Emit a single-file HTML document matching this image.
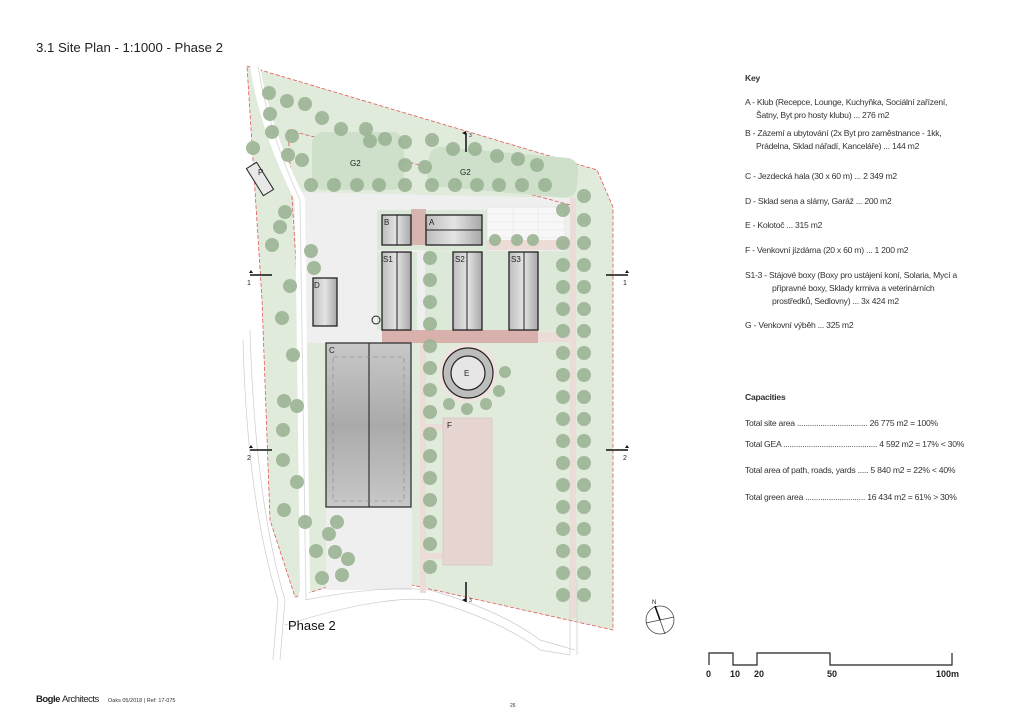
<!DOCTYPE html>
<html><head><meta charset="utf-8"><style>
html,body{margin:0;padding:0;background:#fff;width:1024px;height:724px;overflow:hidden}
svg{display:block}
text{font-family:"Liberation Sans",sans-serif}
.k{font-size:8.6px;fill:#333;letter-spacing:-0.25px}
.b{stroke:#222;stroke-width:1.3;fill:url(#gr)}
.t{fill:#9db596;opacity:.92}
.l{font-size:8px;fill:#222}
</style></head><body>
<svg width="1024" height="724" viewBox="0 0 1024 724" xmlns="http://www.w3.org/2000/svg">
<defs>
<linearGradient id="gr" x1="0" x2="1"><stop offset="0" stop-color="#bdbdbd"/><stop offset=".5" stop-color="#e4e4e4"/><stop offset="1" stop-color="#a8a8a8"/></linearGradient>
<linearGradient id="gv" x1="0" y1="0" x2="0" y2="1"><stop offset="0" stop-color="#c8c8c8"/><stop offset=".5" stop-color="#aaa"/><stop offset="1" stop-color="#c8c8c8"/></linearGradient>
</defs>
<text x="36" y="52" font-size="13.2" fill="#222">3.1 Site Plan - 1:1000 - Phase 2</text>

<polygon points="247,66 597,170 613,207 613,630 367,575 295,597 270,520 262,300" fill="#e0ebdc" stroke="#e05a5a" stroke-width="0.8" stroke-dasharray="4,2"/>
<polygon points="295,192 575,198 575,250 425,250 425,343 412,343 412,590 326,590 326,343 300,343 300,260 292,225" fill="#efefef"/>
<path d="M288,130 L578,207" stroke="#e05a5a" stroke-width="0.8" stroke-dasharray="4,2" fill="none"/>
<path d="M288,130 L300,330" stroke="#e05a5a" stroke-width="0.8" stroke-dasharray="4,2" fill="none"/>
<rect x="312" y="132" width="92" height="58" rx="12" fill="#cfe0ca"/>
<rect x="428" y="152" width="150" height="40" rx="12" fill="#cfe0ca" transform="rotate(5 500 170)"/>
<text x="350" y="166" class="l">G2</text><text x="460" y="175" class="l">G2</text>
<path d="M255,66 Q265,130 300,200 L305,590 L300,610" stroke="#fff" stroke-width="10" fill="none"/>
<path d="M258,66 Q268,130 300,200 L306,600" stroke="#ddd" stroke-width="1" fill="none"/>
<path d="M250,330 Q255,500 285,600 L280,660" stroke="#ccc" stroke-width="0.7" fill="none"/>
<path d="M243,340 Q247,500 278,600 L273,660" stroke="#ccc" stroke-width="0.7" fill="none"/>
<path d="M305,600 Q380,585 430,590 Q500,610 540,640 L575,650" stroke="#ccc" stroke-width="0.7" fill="none"/>
<path d="M285,625 Q380,595 430,600 Q500,620 540,650 L570,655" stroke="#ccc" stroke-width="0.7" fill="none"/>
<path d="M570,580 L570,655 M577,580 L577,655" stroke="#ccc" stroke-width="0.7"/>
<rect x="377" y="210" width="110" height="40" fill="#dce9d8"/>
<rect x="377" y="252" width="40" height="78" fill="#dce9d8"/>
<rect x="425" y="252" width="145" height="78" fill="#dce9d8"/>
<rect x="487" y="207" width="78" height="44" fill="#f7f7f7" stroke="#ddd" stroke-width=".6"/>
<path d="M487,214 H565 M487,222 H565 M487,230 H565 M487,238 H565 M513,207 V244 M538,207 V244" stroke="#e4e4e4" stroke-width=".6"/>
<rect x="420" y="343" width="6" height="250" fill="#ecdcd8"/>
<rect x="570" y="198" width="6" height="420" fill="#ecdcd8"/>
<rect x="538" y="332" width="37" height="10" fill="#ecdcd8"/>
<rect x="426" y="424" width="18" height="6" fill="#ecdcd8"/>
<rect x="426" y="553" width="18" height="6" fill="#ecdcd8"/>
<rect x="487" y="240" width="88" height="10" fill="#ecdcd8"/>
<rect x="411" y="209" width="15" height="36" fill="#d6b4b0"/>
<rect x="382" y="330" width="156" height="13" fill="#d8b0ac"/>
<rect x="382" y="215" width="29" height="30" class="b"/><line x1="397" y1="215" x2="397" y2="245" stroke="#222"/>
<rect x="426" y="215" width="56" height="30" class="b"/><line x1="426" y1="230" x2="482" y2="230" stroke="#222"/>
<rect x="382" y="252" width="29" height="78" class="b"/><line x1="397" y1="252" x2="397" y2="330" stroke="#222"/>
<rect x="453" y="252" width="29" height="78" class="b"/><line x1="467" y1="252" x2="467" y2="330" stroke="#222"/>
<rect x="509" y="252" width="29" height="78" class="b"/><line x1="524" y1="252" x2="524" y2="330" stroke="#222"/>
<rect x="313" y="278" width="24" height="48" class="b"/>
<rect x="326" y="343" width="85" height="164" fill="url(#gv)" stroke="#333" stroke-width="1.3"/>
<line x1="369" y1="343" x2="369" y2="507" stroke="#333" stroke-width="1.2"/>
<rect x="333" y="357" width="71" height="144" fill="none" stroke="#888" stroke-width=".6" stroke-dasharray="5,3"/>
<rect x="443" y="418" width="49" height="147" fill="#e6d5d1" stroke="#d5c0bc" stroke-width=".6"/>
<circle cx="468" cy="373" r="29" fill="#efe2df"/>
<circle cx="468" cy="373" r="25" fill="#bdbdbd" stroke="#222" stroke-width="1.2"/>
<circle cx="468" cy="373" r="17" fill="#e6e6e6" stroke="#222" stroke-width="1.2"/>
<circle cx="376" cy="320" r="4" fill="none" stroke="#222"/>
<rect x="254" y="163" width="12" height="32" fill="#e8e8e8" stroke="#222" transform="rotate(-32 260 179)"/>
<text x="384" y="225" class="l">B</text><text x="429" y="225" class="l">A</text>
<text x="383" y="262" class="l">S1</text><text x="455" y="262" class="l">S2</text><text x="511" y="262" class="l">S3</text>
<text x="314" y="288" class="l">D</text><text x="329" y="353" class="l">C</text><text x="464" y="376" class="l">E</text><text x="447" y="428" class="l">F</text>
<text x="258" y="175" class="l">P</text>
<g class="t">
<circle cx="269" cy="93" r="7"/><circle cx="287" cy="101" r="7"/><circle cx="305" cy="104" r="7"/><circle cx="270" cy="114" r="7"/><circle cx="322" cy="118" r="7"/><circle cx="341" cy="129" r="7"/><circle cx="366" cy="129" r="7"/><circle cx="272" cy="132" r="7"/><circle cx="253" cy="148" r="7"/><circle cx="292" cy="136" r="7"/><circle cx="302" cy="160" r="7"/><circle cx="288" cy="155" r="7"/><circle cx="370" cy="141" r="7"/><circle cx="385" cy="139" r="7"/><circle cx="405" cy="142" r="7"/><circle cx="432" cy="140" r="7"/><circle cx="453" cy="149" r="7"/><circle cx="475" cy="149" r="7"/><circle cx="497" cy="156" r="7"/><circle cx="518" cy="159" r="7"/><circle cx="537" cy="165" r="7"/><circle cx="405" cy="165" r="7"/><circle cx="425" cy="167" r="7"/><circle cx="311" cy="185" r="7"/><circle cx="334" cy="185" r="7"/><circle cx="357" cy="185" r="7"/><circle cx="379" cy="185" r="7"/><circle cx="405" cy="185" r="7"/><circle cx="432" cy="185" r="7"/><circle cx="455" cy="185" r="7"/><circle cx="477" cy="185" r="7"/><circle cx="499" cy="185" r="7"/><circle cx="522" cy="185" r="7"/><circle cx="545" cy="185" r="7"/><circle cx="584" cy="196" r="7"/>
<circle cx="285" cy="212" r="7"/><circle cx="280" cy="227" r="7"/><circle cx="272" cy="245" r="7"/><circle cx="311" cy="251" r="7"/><circle cx="314" cy="268" r="7"/><circle cx="290" cy="286" r="7"/><circle cx="282" cy="318" r="7"/><circle cx="293" cy="355" r="7"/><circle cx="284" cy="401" r="7"/><circle cx="297" cy="406" r="7"/><circle cx="283" cy="430" r="7"/><circle cx="283" cy="460" r="7"/><circle cx="297" cy="482" r="7"/><circle cx="284" cy="510" r="7"/><circle cx="305" cy="522" r="7"/><circle cx="337" cy="522" r="7"/><circle cx="329" cy="534" r="7"/><circle cx="316" cy="551" r="7"/><circle cx="335" cy="552" r="7"/><circle cx="348" cy="559" r="7"/><circle cx="322" cy="578" r="7"/><circle cx="342" cy="575" r="7"/>
<circle cx="495" cy="240" r="6"/><circle cx="517" cy="240" r="6"/><circle cx="533" cy="240" r="6"/>
<circle cx="430" cy="258" r="7"/><circle cx="430" cy="280" r="7"/><circle cx="430" cy="302" r="7"/><circle cx="430" cy="324" r="7"/><circle cx="430" cy="346" r="7"/><circle cx="430" cy="368" r="7"/><circle cx="430" cy="390" r="7"/><circle cx="430" cy="412" r="7"/><circle cx="430" cy="434" r="7"/><circle cx="430" cy="456" r="7"/><circle cx="430" cy="478" r="7"/><circle cx="430" cy="500" r="7"/><circle cx="430" cy="522" r="7"/><circle cx="430" cy="544" r="7"/><circle cx="430" cy="567" r="7"/>
<circle cx="505" cy="372" r="6"/><circle cx="499" cy="391" r="6"/><circle cx="486" cy="404" r="6"/><circle cx="467" cy="409" r="6"/><circle cx="449" cy="404" r="6"/>
<circle cx="563" cy="210" r="7"/><circle cx="584" cy="220" r="7"/>
<circle cx="563" cy="243" r="7"/><circle cx="563" cy="265" r="7"/><circle cx="563" cy="287" r="7"/><circle cx="563" cy="309" r="7"/><circle cx="563" cy="331" r="7"/><circle cx="563" cy="353" r="7"/><circle cx="563" cy="375" r="7"/><circle cx="563" cy="397" r="7"/><circle cx="563" cy="419" r="7"/><circle cx="563" cy="441" r="7"/><circle cx="563" cy="463" r="7"/><circle cx="563" cy="485" r="7"/><circle cx="563" cy="507" r="7"/><circle cx="563" cy="529" r="7"/><circle cx="563" cy="551" r="7"/><circle cx="563" cy="573" r="7"/><circle cx="563" cy="595" r="7"/>
<circle cx="584" cy="243" r="7"/><circle cx="584" cy="265" r="7"/><circle cx="584" cy="287" r="7"/><circle cx="584" cy="309" r="7"/><circle cx="584" cy="331" r="7"/><circle cx="584" cy="353" r="7"/><circle cx="584" cy="375" r="7"/><circle cx="584" cy="397" r="7"/><circle cx="584" cy="419" r="7"/><circle cx="584" cy="441" r="7"/><circle cx="584" cy="463" r="7"/><circle cx="584" cy="485" r="7"/><circle cx="584" cy="507" r="7"/><circle cx="584" cy="529" r="7"/><circle cx="584" cy="551" r="7"/><circle cx="584" cy="573" r="7"/><circle cx="584" cy="595" r="7"/>
</g>
<g stroke="#111" stroke-width="1.5" fill="none">
<path d="M250,275 H272"/><path d="M606,275 H628"/><path d="M250,450 H272"/><path d="M606,450 H628"/>
<path d="M466,133 V152"/><path d="M466,582 V602"/>
</g>
<g font-size="7" fill="#222">
<text x="247" y="285">1</text><text x="623" y="285">1</text><text x="247" y="460">2</text><text x="623" y="460">2</text>
<text x="469" y="137" font-size="5">3</text><text x="469" y="602" font-size="5">3</text>
</g>
<path d="M249,273 l2,-3 l2,3z M625,273 l2,-3 l2,3z M249,448 l2,-3 l2,3z M625,448 l2,-3 l2,3z M462,133 l4,-2 v4z M462,600 l4,-2 v4z" fill="#111"/>
<text x="288" y="630" font-size="13" fill="#111">Phase 2</text>
<circle cx="660" cy="620" r="14" fill="none" stroke="#444" stroke-width=".8"/>
<path d="M655,606 L665,634 M646,623 L674,617" stroke="#444" stroke-width=".8"/>
<path d="M655,606 L660,620" stroke="#111" stroke-width="1.6"/>
<text x="652" y="604" font-size="6" fill="#222">N</text>
<text x="745" y="81" class="k" font-weight="bold">Key</text>
<text x="745" y="105" class="k">A - Klub (Recepce, Lounge, Kuchyňka, Sociální zařízení,</text>
<text x="756" y="118" class="k">Šatny, Byt pro hosty klubu) ... 276 m2</text>
<text x="745" y="136" class="k">B - Zázemí a ubytování (2x Byt pro zaměstnance - 1kk,</text>
<text x="756" y="149" class="k">Prádelna, Sklad nářadí, Kanceláře) ... 144 m2</text>
<text x="745" y="179" class="k">C - Jezdecká hala (30 x 60 m) ...  2 349 m2</text>
<text x="745" y="204" class="k">D - Sklad sena a slámy, Garáž ... 200 m2</text>
<text x="745" y="228" class="k">E - Kolotoč ... 315 m2</text>
<text x="745" y="253" class="k">F - Venkovní jízdárna (20 x 60 m) ... 1 200 m2</text>
<text x="745" y="278" class="k">S1-3 - Stájové boxy (Boxy pro ustájení koní, Solaria, Mycí a</text>
<text x="772" y="291" class="k">přípravné boxy, Sklady krmiva a veterinárních</text>
<text x="772" y="304" class="k">prostředků, Sedlovny) ... 3x 424 m2</text>
<text x="745" y="328" class="k">G - Venkovní výběh ... 325 m2</text>
<text x="745" y="400" class="k" font-weight="bold">Capacities</text>
<text x="745" y="426" class="k">Total site area ................................. 26 775 m2 = 100%</text>
<text x="745" y="447" class="k">Total GEA ............................................ 4 592 m2 = 17% &lt; 30%</text>
<text x="745" y="473" class="k">Total area of path, roads, yards ..... 5 840 m2 = 22% &lt; 40%</text>
<text x="745" y="500" class="k">Total green area ............................ 16 434 m2 = 61% &gt; 30%</text>
<path d="M709,665 V653 H733 V665 H757 V653 H830 V665 H952 V653" stroke="#222" stroke-width="1.2" fill="none"/>
<g font-size="9" fill="#222" font-weight="bold">
<text x="706" y="677">0</text><text x="730" y="677">10</text><text x="754" y="677">20</text><text x="827" y="677">50</text><text x="936" y="677">100m</text>
</g>
<text x="36" y="702" font-size="9.5" font-weight="bold" fill="#222" letter-spacing="-0.5">Bogle <tspan font-weight="normal">Architects</tspan></text>
<text x="108" y="702" font-size="5.5" fill="#333">Oaks 05/2018 | Ref: 17-075</text>
<text x="510" y="707" font-size="5" fill="#333">26</text>
</svg>
</body></html>
